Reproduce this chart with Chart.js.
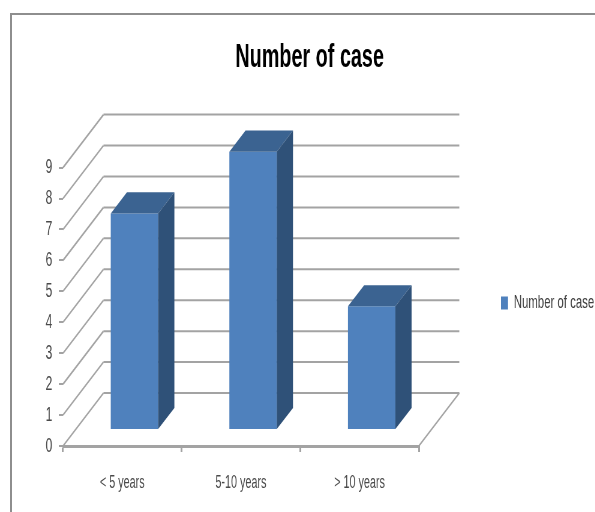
<!DOCTYPE html>
<html>
<head>
<meta charset="utf-8">
<title>Number of case</title>
<script src="https://cdn.jsdelivr.net/npm/chart.js@4"></script>
<style>
  html, body { margin: 0; padding: 0; background: #fff; overflow: hidden; }
  #frame { position: absolute; left: 10px; top: 13px; width: 590px; height: 510px;
           border-left: 2px solid #8e8e8e; border-top: 2px solid #8e8e8e; }
  #squeeze { position: absolute; left: 0; top: 0; width: 1000px; height: 512px;
             transform: scaleX(0.6); transform-origin: left top; }
</style>
</head>
<body>
<div id="frame"></div>
<div id="squeeze"><canvas id="chart" width="1000" height="512"></canvas></div>
<script>
const categories = ['< 5 years', '5-10 years', '> 10 years'];
const seriesName = 'Number of case';
const caseCounts = [7, 9, 4];
const valueTicks = [0, 1, 2, 3, 4, 5, 6, 7, 8, 9];

const fontFamily = '"Liberation Sans", Arial, sans-serif';
const gridColor = '#a3a3a3';
const frontColor = '#4f81bd';
const topColor = '#3b6391';
const sideColor = '#2f5178';

// Depth of the 3D floor in canvas units; bars sit in the middle 40% of it.
const depth = { dx: 67.5, dy: -53 };
const barNear = 0.3;
const barFar = 0.7;

function line(ctx, x1, y1, x2, y2) {
  ctx.beginPath();
  ctx.moveTo(x1, y1);
  ctx.lineTo(x2, y2);
  ctx.stroke();
}

function poly(ctx, pts, color) {
  ctx.fillStyle = color;
  ctx.beginPath();
  pts.forEach((p, i) => (i ? ctx.lineTo(p[0], p[1]) : ctx.moveTo(p[0], p[1])));
  ctx.closePath();
  ctx.fill();
}

const walls3d = {
  id: 'walls3d',
  afterLayout(chart) {
    // The wide label padding pulls the legend upward; bring it back beside the plot.
    chart.legend.top += 47;
    chart.legend.bottom += 47;
  },
  beforeDatasetsDraw(chart) {
    const { ctx, chartArea: a, scales: { y } } = chart;
    ctx.save();
    ctx.strokeStyle = gridColor;
    ctx.lineWidth = 2;
    valueTicks.forEach(v => {
      const py = y.getPixelForValue(v);
      line(ctx, a.left, py, a.left + depth.dx, py + depth.dy);
      line(ctx, a.left + depth.dx, py + depth.dy, a.right + depth.dx, py + depth.dy);
    });
    line(ctx, a.right, a.bottom, a.right + depth.dx, a.bottom + depth.dy);
    ctx.restore();
  },
  beforeDatasetDraw(chart) {
    chart.ctx.save();
    chart.ctx.translate(depth.dx * barNear, depth.dy * barNear);
  },
  afterDatasetDraw(chart, args) {
    const { ctx } = chart;
    const run = depth.dx * (barFar - barNear);
    const rise = depth.dy * (barFar - barNear);
    args.meta.data.forEach(bar => {
      const l = bar.x - bar.width / 2;
      const r = bar.x + bar.width / 2;
      poly(ctx, [[l, bar.y], [r, bar.y], [r + run, bar.y + rise], [l + run, bar.y + rise]], topColor);
      poly(ctx, [[r, bar.y], [r + run, bar.y + rise], [r + run, bar.base + rise], [r, bar.base]], sideColor);
    });
    ctx.restore();
  }
};

new Chart(document.getElementById('chart'), {
  type: 'bar',
  data: {
    labels: categories,
    datasets: [{
      label: seriesName,
      data: caseCounts,
      backgroundColor: frontColor,
      barPercentage: 0.4,
      categoryPercentage: 1,
      clip: false
    }]
  },
  options: {
    responsive: false,
    animation: false,
    layout: { padding: { left: 34, right: 2, top: 0, bottom: 0 } },
    plugins: {
      title: {
        display: true,
        text: 'Number of case',
        color: '#000',
        font: { family: fontFamily, size: 33, weight: 'bold' },
        padding: { top: 38, bottom: 90 }
      },
      legend: {
        position: 'right',
        maxWidth: 300,
        labels: {
          color: '#404040',
          font: { family: fontFamily, size: 19 },
          boxWidth: 11.7,
          boxHeight: 13,
          padding: 137
        }
      },
      tooltip: { enabled: false }
    },
    scales: {
      x: {
        afterFit(s) { s.height = 66; },
        border: { color: gridColor, width: 3 },
        grid: { drawOnChartArea: false, tickLength: 6, color: gridColor, lineWidth: 3 },
        ticks: { color: '#4a4a4a', font: { family: fontFamily, size: 18 }, padding: 20, maxRotation: 0 }
      },
      y: {
        min: 0,
        max: 9,
        afterFit(s) { s.width = 71; },
        border: { display: false },
        grid: { drawOnChartArea: false, tickLength: 7, color: gridColor, lineWidth: 2 },
        ticks: { color: '#4a4a4a', font: { family: fontFamily, size: 20 }, padding: 11, stepSize: 1 }
      }
    }
  },
  plugins: [walls3d]
});
</script>
</body>
</html>
